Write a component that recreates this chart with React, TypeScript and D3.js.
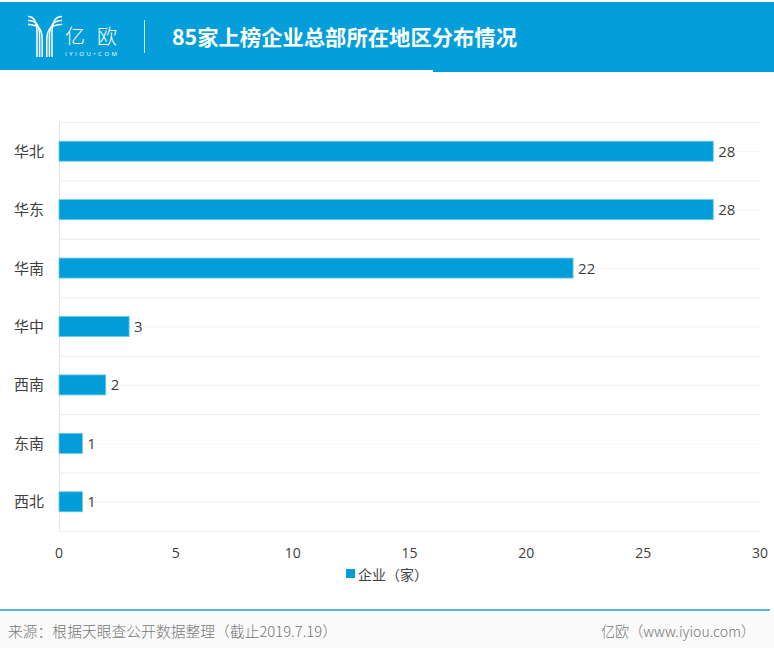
import React from "react";
import * as d3 from "d3";

const categories = ["华北", "华东", "华南", "华中", "西南", "东南", "西北"];
const values = [28, 28, 22, 3, 2, 1, 1];
const xTicks = [0, 5, 10, 15, 20, 25, 30];
const titleText = "85家上榜企业总部所在地区分布情况";
const legendLabel = "企业（家）";
const sourceText = "来源：根据天眼查公开数据整理（截止2019.7.19）";
const brandText = "亿欧（www.iyiou.com）";

const W = 774;
const H = 648;
const BLUE = "#049fda";
const FONT = "'Open Sans', 'Noto Sans CJK SC', sans-serif";
const CJK = "'Noto Sans CJK SC', 'Open Sans', sans-serif";

export default function App() {
  const x = d3.scaleLinear().domain([0, 30]).range([59, 760]);
  const y = d3.scaleBand().domain(categories).range([122, 531]).paddingInner(0).paddingOuter(0);
  const bw = y.bandwidth();
  const barH = 20;

  const stripes = [0, 1, 2];

  return (
    <div style={{ position: "absolute", left: 0, top: 0 }}>
      <svg width={W} height={H} style={{ display: "block" }}>
        <rect x={0} y={0} width={W} height={H} fill="#ffffff" />
        {/* header */}
        <rect x={0} y={2} width={W} height={68} fill={BLUE} />
        <rect x={433} y={69} width={W - 433} height={3} fill={BLUE} />
        {/* logo */}
        <g fill="none" stroke="#ffffff" strokeWidth={1.5}>
          {stripes.map((i) => {
            const sx = 37 + i * 2.6;
            const sy = 16.5 + i * 4;
            return <path key={"l" + i} d={`M28,${sy} C${sx - 2},${sy} ${sx},${sy + 6} ${sx},${sy + 16} L${sx},57`} />;
          })}
          {stripes.map((i) => {
            const sx = 52 - i * 2.6;
            const sy = 16.5 + i * 4;
            return <path key={"r" + i} d={`M62,${sy} C${sx + 3},${sy} ${sx},${sy + 6} ${sx},${sy + 16} L${sx},57`} />;
          })}
        </g>
        <text x={65} y={44} fill="#fff" fontFamily={CJK} fontSize={20} fontWeight={300} textLength={52} lengthAdjust="spacing">亿欧</text>
        <text x={65} y={56} fill="#fff" fontFamily={FONT} fontSize={6} textLength={52} lengthAdjust="spacing">IYIOU•COM</text>
        <line x1={144.5} x2={144.5} y1={20} y2={53} stroke="#ffffff" strokeOpacity={0.85} strokeWidth={1} />
        <text x={172} y={45} fill="#fff" fontFamily={CJK} fontSize={21} fontWeight={700} textLength={345} lengthAdjust="spacingAndGlyphs">
          {titleText}
        </text>

        {/* gridlines */}
        <g stroke="#ececec" strokeWidth={1}>
          {categories.map((c) => (
            <line key={"b" + c} x1={59} x2={760} y1={(y(c) as number) + 0.5} y2={(y(c) as number) + 0.5} />
          ))}
          <line x1={59} x2={760} y1={531.5} y2={531.5} />
          {categories.map((c) => (
            <line key={"m" + c} x1={59} x2={760} y1={(y(c) as number) + bw / 2 + 0.5} y2={(y(c) as number) + bw / 2 + 0.5} stroke="#f3f3f3" />
          ))}
          <line x1={59.5} x2={59.5} y1={122} y2={531} stroke="#e6e6e6" />
        </g>

        {/* bars */}
        {categories.map((c, i) => {
          const cy = (y(c) as number) + bw / 2;
          return (
            <g key={c}>
              <rect
                x={x(0)}
                y={cy - barH / 2}
                width={x(values[i]) - x(0)}
                height={barH}
                fill="#009dd8"
                stroke="#6cc6ea"
                strokeWidth={0.8}
              />
              <text x={x(values[i]) + 5} y={cy + 5.5} fill="#404040" fontFamily={FONT} fontSize={15}>
                {values[i]}
              </text>
              <text x={44} y={cy + 5.5} fill="#404040" fontFamily={CJK} fontSize={15} textAnchor="end">
                {c}
              </text>
            </g>
          );
        })}

        {/* x ticks */}
        {xTicks.map((t) => (
          <text key={t} x={x(t)} y={558} fill="#404040" fontFamily={FONT} fontSize={14} textAnchor="middle">
            {t}
          </text>
        ))}

        {/* legend */}
        <rect x={346} y={569} width={9} height={9} fill="#009dd8" />
        <text x={358} y={580} fill="#404040" fontFamily={CJK} fontSize={14}>{legendLabel}</text>

        {/* footer */}
        <rect x={0} y={612} width={W} height={36} fill="#fafafa" />
        <line x1={0} x2={770} y1={610} y2={610} stroke="#1a9fd8" strokeWidth={1.5} />
        <text x={8} y={637} fill="#777777" fontFamily={CJK} fontSize={14.5} fontWeight={300} textLength={329} lengthAdjust="spacingAndGlyphs">{sourceText}</text>
        <text x={601} y={637} fill="#777777" fontFamily={CJK} fontSize={14.5} fontWeight={300} textLength={154} lengthAdjust="spacingAndGlyphs">{brandText}</text>
      </svg>
    </div>
  );
}
